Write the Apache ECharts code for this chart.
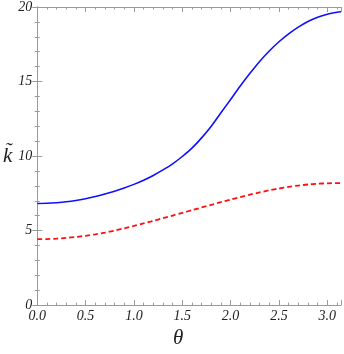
<!DOCTYPE html>
<html><head><meta charset="utf-8">
<script src="https://cdn.jsdelivr.net/npm/echarts@6/dist/echarts.min.js"></script>
<style>html,body{margin:0;padding:0;background:#fff}#c{width:344px;height:354px}</style>
</head><body><div id="c"></div>
<script>
const thetas = [0, 0.1, 0.2, 0.3, 0.4, 0.5, 0.6, 0.7, 0.8, 0.9, 1.0, 1.1, 1.2, 1.3, 1.4, 1.5, 1.6, 1.7, 1.8, 1.9, 2.0, 2.1, 2.2, 2.3, 2.4, 2.5, 2.6, 2.7, 2.8, 2.9, 3.0, 3.1, Math.PI];
const blueVals = [6.82, 6.83, 6.87, 6.93, 7.02, 7.14, 7.28, 7.45, 7.64, 7.86, 8.10, 8.38, 8.70, 9.07, 9.48, 9.97, 10.53, 11.22, 12.00, 12.90, 13.80, 14.70, 15.55, 16.35, 17.05, 17.67, 18.20, 18.65, 19.03, 19.32, 19.52, 19.65, 19.68];
const redVals  = [4.42, 4.43, 4.46, 4.51, 4.57, 4.65, 4.75, 4.87, 5.00, 5.15, 5.31, 5.48, 5.65, 5.83, 6.01, 6.19, 6.37, 6.55, 6.73, 6.91, 7.08, 7.25, 7.41, 7.56, 7.70, 7.82, 7.93, 8.02, 8.09, 8.14, 8.17, 8.18, 8.18];
const xTickLabels = ['0.0','0.5','1.0','1.5','2.0','2.5','3.0'];
const yTickLabels = ['0','5','10','15','20'];

const frame = '#9a9a9a';
const font = "'Liberation Serif', 'DejaVu Serif', serif";
const chart = echarts.init(document.getElementById('c'));
function xa(pos, showLabel, interval, len, showLine, name) {
  return {
    type: 'value', position: pos, min: 0, max: Math.PI, interval: interval,
    axisLine: {show: showLine, lineStyle: {color: frame, width: 1}},
    axisTick: {show: true, inside: true, length: len, lineStyle: {color: frame}},
    splitLine: {show: false},
    axisLabel: showLabel ? {
      show: true, margin: 4, fontFamily: font, fontStyle: 'italic', fontSize: 14, color: '#222',
      formatter: function (v) { const i = Math.round(v / 0.5); return Math.abs(v - i * 0.5) < 1e-6 && i < xTickLabels.length ? xTickLabels[i] : ''; }
    } : {show: false},
    name: name || '', nameLocation: 'middle', nameGap: 15,
    nameTextStyle: {fontFamily: font, fontStyle: 'italic', fontSize: 21, color: '#222', padding: [0, 22, 0, 0]}
  };
}
function ya(pos, showLabel, name) {
  return {
    type: 'value', position: pos, min: 0, max: 20, interval: 5,
    axisLine: {show: true, lineStyle: {color: frame, width: 1}},
    axisTick: {show: true, inside: true, length: 5, lineStyle: {color: frame}},
    minorTick: {show: true, splitNumber: 5, length: 2.5, lineStyle: {color: frame}},
    splitLine: {show: false},
    axisLabel: showLabel ? {
      show: true, margin: 5, fontFamily: font, fontStyle: 'italic', fontSize: 14, color: '#222',
      formatter: function (v) { const i = Math.round(v / 5); return yTickLabels[i] || ''; }
    } : {show: false},
    name: name || '', nameLocation: 'middle', nameGap: 16, nameRotate: 0,
    nameTextStyle: {fontFamily: font, fontStyle: 'italic', fontSize: 21, color: '#222'}
  };
}
chart.setOption({
  animation: false,
  grid: {left: 35.5, right: 1, top: 6, bottom: 40, containLabel: false},
  xAxis: [
    xa('bottom', true, 0.5, 5, true, 'θ'),
    xa('bottom', false, 0.1, 2.5, false),
    xa('top', false, 0.5, 5, true),
    xa('top', false, 0.1, 2.5, false)
  ],
  yAxis: [ya('left', true, 'k\u0303'), ya('right', false)],
  series: [
    {type: 'line', xAxisIndex: 0, yAxisIndex: 0, data: thetas.map((t, i) => [t, blueVals[i]]),
     smooth: 0.3, showSymbol: false, lineStyle: {color: '#1010ff', width: 1.6}},
    {type: 'line', xAxisIndex: 0, yAxisIndex: 0, data: thetas.map((t, i) => [t, redVals[i]]),
     smooth: 0.3, showSymbol: false, lineStyle: {color: '#ff1010', width: 1.8, type: [5, 3]}}
  ]
});
</script></body></html>
